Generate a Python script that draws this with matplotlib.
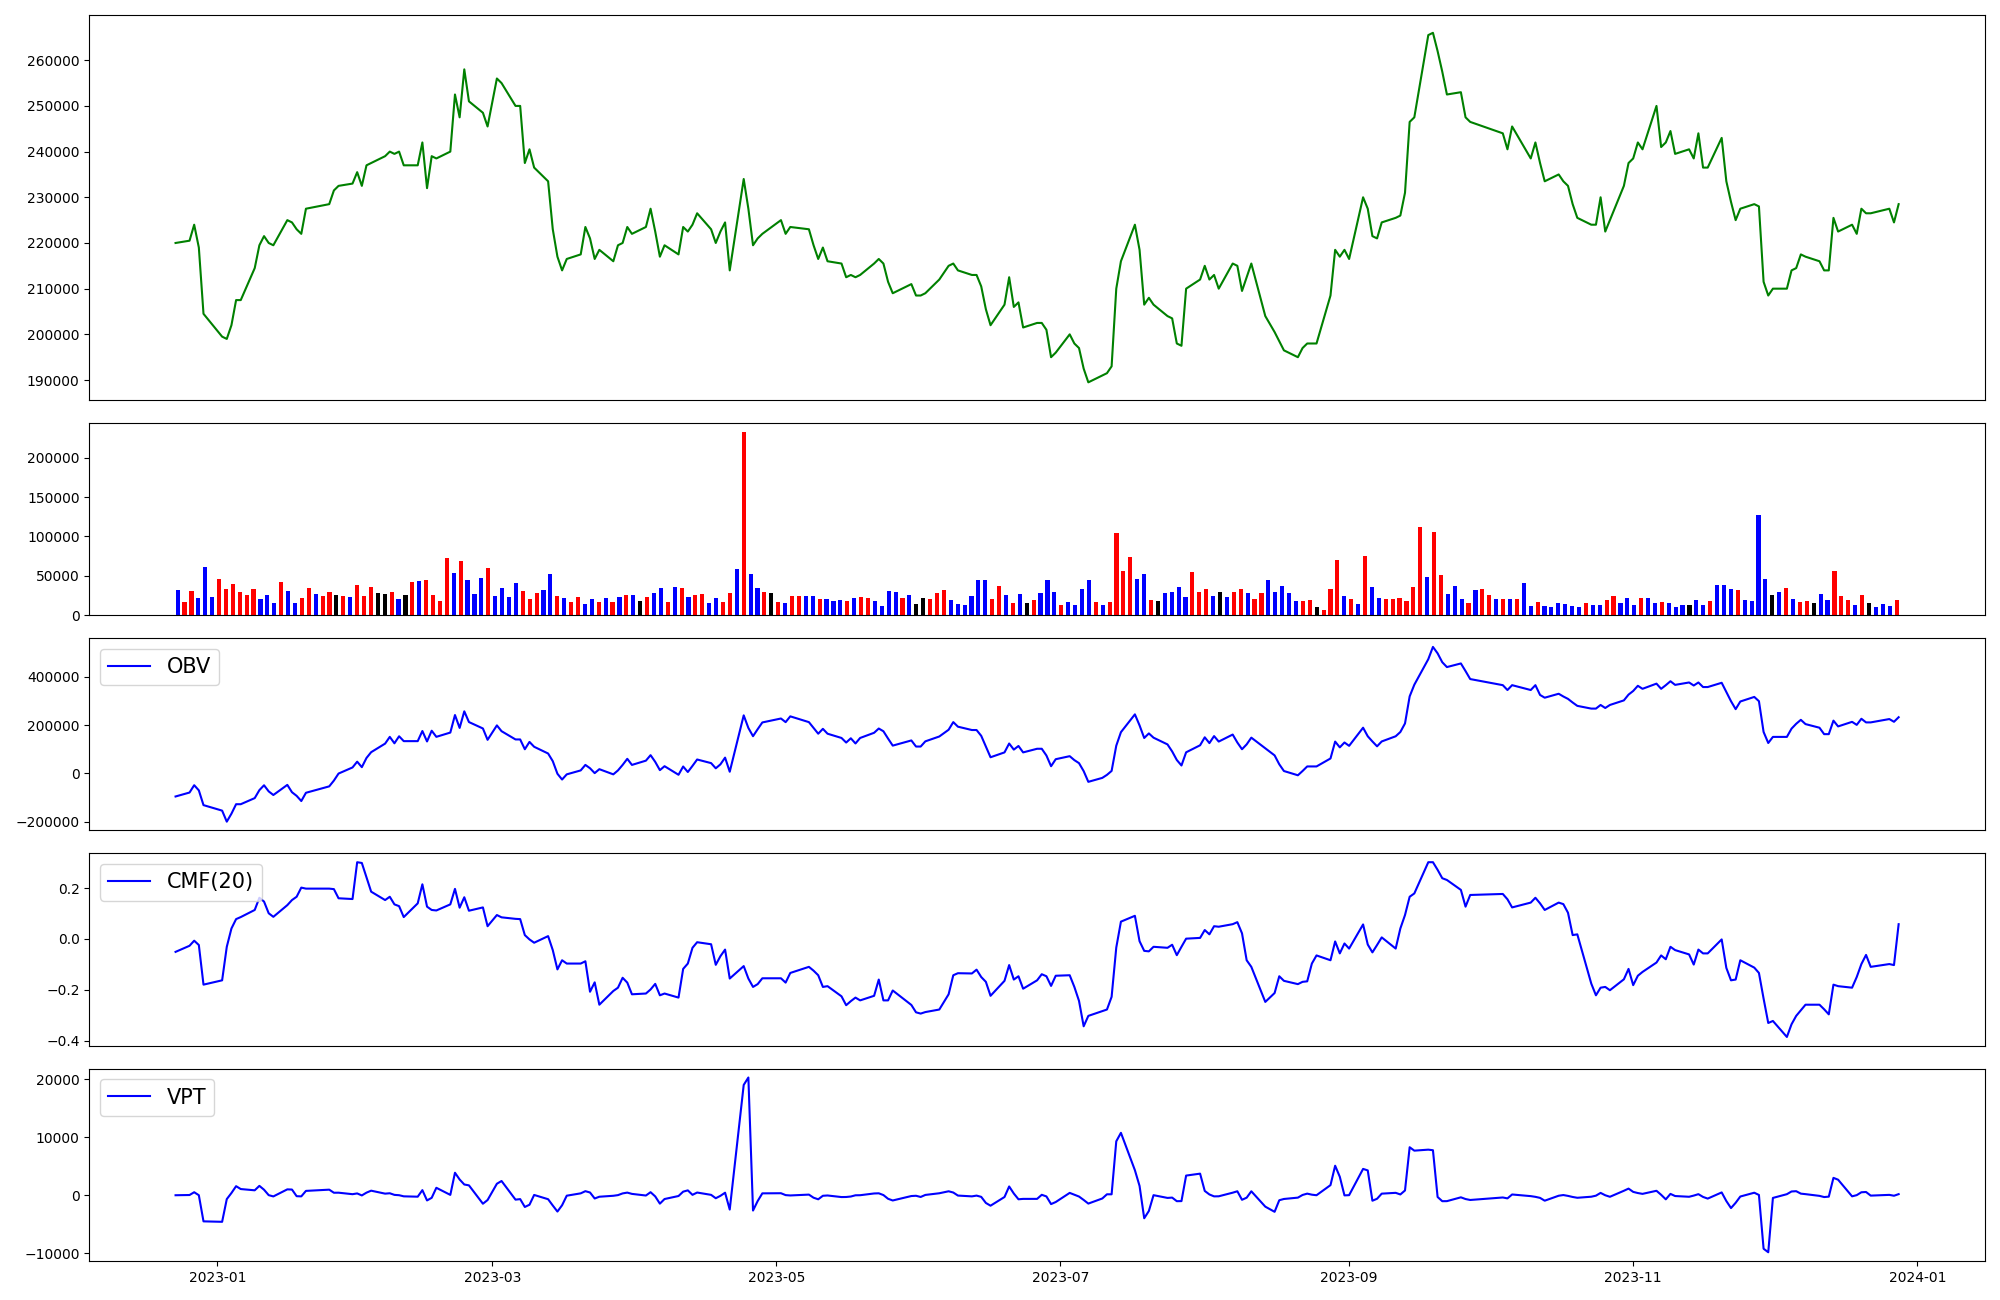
import matplotlib
matplotlib.use('Agg')
import matplotlib.pyplot as plt
import numpy as np
import pandas as pd

# KRX trading days, Dec 23 2022 .. Dec 28 2023
holidays = ['2022-12-30', '2023-01-23', '2023-01-24', '2023-03-01', '2023-05-01',
            '2023-05-05', '2023-05-29', '2023-06-06', '2023-08-15', '2023-09-28',
            '2023-09-29', '2023-10-02', '2023-10-03', '2023-10-09', '2023-12-25']
dates = pd.bdate_range('2022-12-23', '2023-12-28').drop(pd.to_datetime(holidays))

close = np.array([
    220000, 220500, 224000, 219000, 204500, 199500, 199000, 202000, 207500, 207500,
    214500, 219500, 221500, 220000, 219500, 225000, 224500, 223000, 222000, 227500,
    228500, 231500, 232500, 233000, 235500, 232500, 237000, 237500, 239000, 240000,
    239500, 240000, 237000, 237000, 242000, 232000, 239000, 238500, 240000, 252500,
    247500, 258000, 251000, 248500, 245500, 256000, 255000, 250000, 250000, 237500,
    240500, 236500, 233500, 223000, 217000, 214000, 216500, 217500, 223500, 221000,
    216500, 218500, 216000, 219500, 220000, 223500, 222000, 223500, 227500, 222500,
    217000, 219500, 217500, 223500, 222500, 224000, 226500, 223000, 220000, 222500,
    224500, 214000, 234000, 227500, 219500, 221000, 222000, 225000, 222000, 223500,
    223000, 219500, 216500, 219000, 216000, 215500, 212500, 213000, 212500, 213000,
    215500, 216500, 215500, 211500, 209000, 211000, 208500, 208500, 209000, 212000,
    215000, 215500, 214000, 213000, 213000, 210500, 205500, 202000, 206500, 212500,
    206000, 207000, 201500, 202500, 202500, 201000, 195000, 196000, 200000, 198000,
    197000, 192500, 189500, 191000, 191500, 193000, 210000, 216000, 224000, 218500,
    206500, 208000, 206500, 204000, 203500, 198000, 197500, 210000, 212000, 215000,
    212000, 213000, 210000, 215500, 215000, 209500, 212500, 215500, 204000, 200500,
    198500, 196500, 195000, 197000, 198000, 198000, 198000, 208500, 218500, 217000,
    218500, 216500, 230000, 227500, 221500, 221000, 224500, 225500, 226000, 231000,
    246500, 247500, 265500, 266000, 262000, 257500, 252500, 253000, 247500, 246500,
    244000, 240500, 245500, 238500, 242000, 237500, 233500, 235000, 233500, 232500,
    228500, 225500, 224000, 224000, 230000, 222500, 225000, 232500, 237500, 238500,
    242000, 240500, 250000, 241000, 242000, 244500, 239500, 240500, 238500, 244000,
    236500, 236500, 243000, 233500, 229000, 225000, 227500, 228500, 228000, 211500,
    208500, 210000, 210000, 214000, 214500, 217500, 217000, 216000, 214000, 214000,
    225500, 222500, 224000, 222000, 227500, 226500, 226500, 227500, 224500, 228500])

# traded volume, thousands of shares
volume_k = np.array([
    31.6, 16.3, 30.3, 21.4, 60.9, 22.7, 45.6, 32.9, 39.2, 29.0,
    25.2, 32.9, 20.1, 25.2, 15.0, 41.8, 30.3, 15.0, 21.4, 34.1,
    26.5, 23.9, 29.0, 25.2, 23.9, 22.7, 38.0, 23.9, 35.4, 27.8,
    26.5, 29.0, 20.1, 25.2, 41.8, 43.1, 44.3, 25.2, 17.6, 72.4,
    53.2, 68.5, 44.3, 26.5, 46.9, 59.6, 23.9, 34.1, 22.7, 40.5,
    30.3, 20.1, 27.8, 31.6, 52.0, 23.9, 21.4, 16.3, 22.7, 13.8,
    20.1, 16.3, 21.4, 16.3, 22.7, 25.2, 25.2, 17.6, 22.7, 27.8,
    34.1, 16.3, 35.4, 34.1, 22.7, 25.2, 26.5, 15.0, 21.4, 16.3,
    27.8, 58.3, 232.9, 52.0, 34.1, 29.0, 27.8, 16.3, 15.0, 23.9,
    23.9, 23.9, 23.9, 20.1, 20.1, 17.6, 18.9, 17.6, 21.4, 22.7,
    21.4, 17.6, 11.3, 30.3, 29.0, 21.4, 25.2, 13.8, 21.4, 20.1,
    27.8, 31.6, 18.9, 13.8, 12.5, 23.9, 44.3, 44.3, 20.1, 36.7,
    25.2, 15.0, 26.5, 15.0, 18.9, 27.8, 44.3, 29.0, 12.5, 16.3,
    12.5, 32.9, 44.3, 16.3, 12.5, 16.3, 104.2, 55.8, 73.6, 45.6,
    52.0, 18.9, 17.6, 27.8, 29.0, 35.4, 22.7, 54.5, 29.0, 32.9,
    23.9, 29.0, 22.7, 29.0, 32.9, 27.8, 20.1, 27.8, 44.3, 29.0,
    36.7, 27.8, 17.6, 17.6, 18.9, 9.9, 6.1, 32.9, 69.8, 23.9,
    20.1, 13.8, 74.9, 35.4, 21.4, 20.1, 20.1, 21.4, 17.6, 35.4,
    111.8, 48.1, 105.5, 50.7, 26.5, 36.7, 20.1, 15.0, 31.6, 32.9,
    25.2, 20.1, 20.1, 20.1, 20.1, 40.5, 11.3, 16.3, 11.3, 9.9,
    15.0, 13.8, 11.3, 9.9, 15.0, 12.5, 12.5, 18.9, 23.9, 15.0,
    21.4, 12.5, 21.4, 21.4, 15.0, 16.3, 15.0, 9.9, 12.5, 12.5,
    18.9, 12.5, 17.6, 38.0, 38.0, 32.9, 31.6, 18.9, 17.6, 127.1,
    45.6, 25.2, 29.0, 34.1, 20.1, 16.3, 17.6, 15.0, 26.5, 18.9,
    55.8, 23.9, 18.9, 12.5, 25.2, 15.0, 9.9, 13.8, 11.3, 18.9])
volume = volume_k * 1000

# candle direction per day: r = close above open, b = below, k = unchanged
candle = ('brrbbbrrrr' 'rrbbbrbbrr' 'brrkrbrrrk' 'krbkrbrrrr' 'brbbbrbbbb'
          'rrrbbrbrrb' 'brbrbrbkrb' 'brbrbrrbbr' 'rbrbbrkrbr' 'rbbrbbbrbr'
          'rbbbbrbkkr' 'rrbbbbbbrr' 'brbkrbbbrb' 'bbbrbrrrrb' 'brkbbbbrrr'
          'bkbrrbrrbb' 'bbbrrkrrrb' 'rbrbbrrrrr' 'rbrrbbbrbr' 'rbrbrbbrbb'
          'bbbbrbbrrb' 'bbrbbrbbbk' 'bbrbbbrbbb' 'bkbrbrrkbb' 'rrrbrkbbbr')

cmf = np.array([
    -0.051, -0.027, -0.007, -0.024, -0.180, -0.163, -0.031, 0.041, 0.078, 0.086,
    0.114, 0.162, 0.147, 0.101, 0.087, 0.133, 0.153, 0.166, 0.202, 0.198,
    0.198, 0.196, 0.160, 0.157, 0.302, 0.299, 0.243, 0.186, 0.153, 0.166,
    0.136, 0.129, 0.086, 0.140, 0.215, 0.127, 0.114, 0.112, 0.136, 0.197,
    0.123, 0.164, 0.111, 0.124, 0.050, 0.094, 0.085, 0.079, 0.078, 0.015,
    -0.002, -0.015, 0.011, -0.044, -0.120, -0.084, -0.097, -0.097, -0.088, -0.208,
    -0.171, -0.259, -0.205, -0.192, -0.153, -0.172, -0.218, -0.215, -0.199, -0.177,
    -0.222, -0.215, -0.231, -0.118, -0.097, -0.035, -0.013, -0.021, -0.102, -0.068,
    -0.042, -0.156, -0.107, -0.156, -0.189, -0.178, -0.155, -0.155, -0.172, -0.134,
    -0.110, -0.125, -0.143, -0.189, -0.186, -0.226, -0.261, -0.245, -0.231, -0.242,
    -0.224, -0.160, -0.242, -0.242, -0.203, -0.260, -0.289, -0.294, -0.288, -0.278,
    -0.218, -0.143, -0.135, -0.136, -0.121, -0.150, -0.169, -0.224, -0.165, -0.103,
    -0.160, -0.147, -0.196, -0.163, -0.139, -0.147, -0.185, -0.145, -0.143, -0.189,
    -0.244, -0.344, -0.303, -0.284, -0.278, -0.228, -0.034, 0.068, 0.091, -0.009,
    -0.047, -0.049, -0.031, -0.035, -0.023, -0.064, -0.031, 0.001, 0.004, 0.035,
    0.018, 0.050, 0.048, 0.058, 0.066, 0.022, -0.084, -0.110, -0.248, -0.213,
    -0.147, -0.165, -0.178, -0.169, -0.167, -0.097, -0.065, -0.084, -0.010, -0.057,
    -0.018, -0.038, 0.057, -0.022, -0.053, -0.024, 0.006, -0.038, 0.041, 0.094,
    0.166, 0.179, 0.302, 0.302, 0.272, 0.239, 0.232, 0.193, 0.127, 0.173,
    0.177, 0.156, 0.124, 0.143, 0.162, 0.140, 0.114, 0.143, 0.137, 0.103,
    0.015, 0.018, -0.176, -0.222, -0.192, -0.189, -0.202, -0.159, -0.118, -0.182,
    -0.145, -0.130, -0.093, -0.065, -0.080, -0.031, -0.044, -0.061, -0.101, -0.042,
    -0.057, -0.057, -0.002, -0.114, -0.163, -0.160, -0.084, -0.113, -0.134, -0.235,
    -0.331, -0.323, -0.386, -0.336, -0.303, -0.281, -0.259, -0.259, -0.277, -0.297,
    -0.180, -0.186, -0.192, -0.150, -0.099, -0.063, -0.110, -0.099, -0.103, 0.058])

obv_start = -95000  # OBV on the first shown day

# indicators from close and volume
obv = obv_start + np.concatenate([[0], np.cumsum(np.sign(np.diff(close)) * volume[1:])])
ret = np.concatenate([[0.0], np.diff(close) / close[:-1]])
vpt_day = volume * ret
vpt = vpt_day + np.concatenate([[0.0], vpt_day[:-1]])

color_map = {'r': 'red', 'b': 'blue', 'k': 'black'}
bar_colors = [color_map[c] for c in candle]

fig = plt.figure(figsize=(20, 13), dpi=100)
gs = fig.add_gridspec(5, 1, height_ratios=[2, 1, 1, 1, 1], left=0.0447, right=0.9924,
                      top=0.9882, bottom=0.030, hspace=0.1)
ax_price = fig.add_subplot(gs[0])
ax_vol = fig.add_subplot(gs[1])
ax_obv = fig.add_subplot(gs[2], sharex=ax_price)
ax_cmf = fig.add_subplot(gs[3], sharex=ax_price)
ax_vpt = fig.add_subplot(gs[4], sharex=ax_price)

ax_price.plot(dates, close, color='green')

ax_vol.bar(np.arange(len(volume)), volume, width=0.6, color=bar_colors)
ax_vol.set_xticks([])

ax_obv.plot(dates, obv, color='blue', label='OBV')
ax_cmf.plot(dates, cmf, color='blue', label='CMF(20)')
ax_vpt.plot(dates, vpt, color='blue', label='VPT')

for ax in (ax_obv, ax_cmf, ax_vpt):
    ax.legend(loc='upper left', fontsize=15)

for ax in (ax_price, ax_obv, ax_cmf):
    ax.tick_params(axis='x', bottom=False, labelbottom=False)

fig.savefig('out.png', dpi=100)
